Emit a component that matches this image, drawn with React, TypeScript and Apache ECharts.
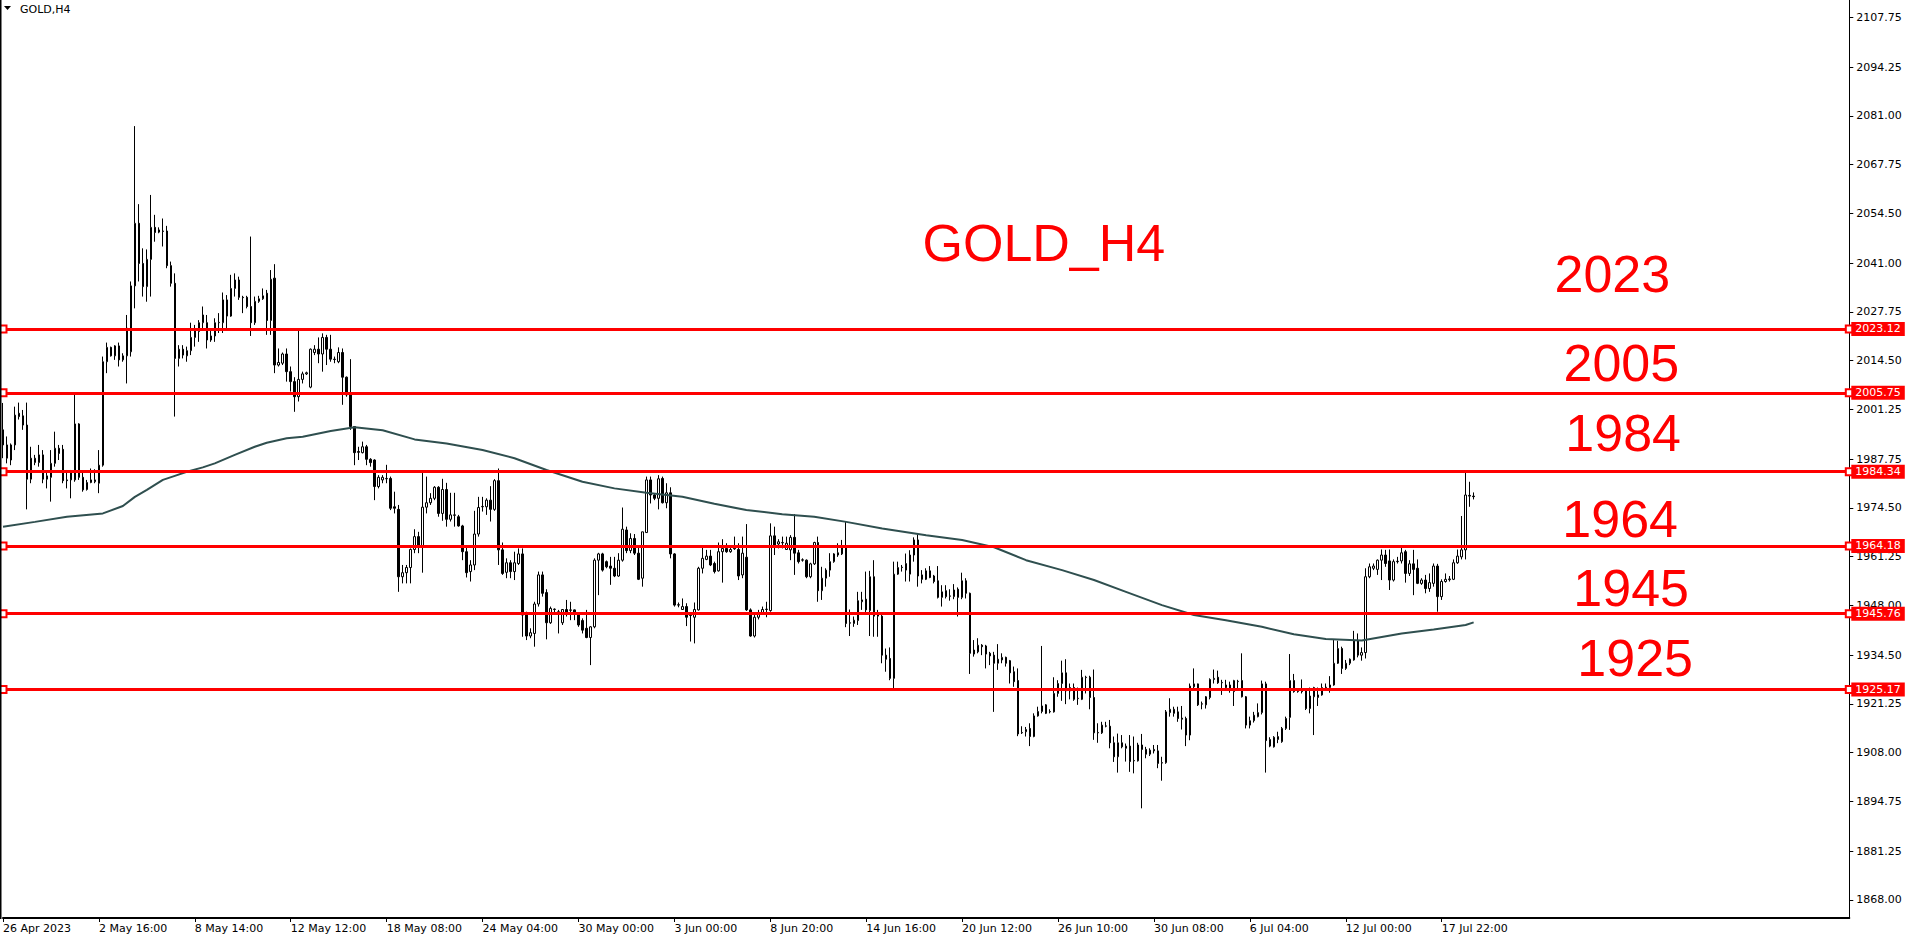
import React, { useEffect, useRef } from 'react';
import * as echarts from 'echarts';

// ---- data ----
const timeLabels: string[] = [
  '26 Apr 2023', '2 May 16:00', '8 May 14:00', '12 May 12:00', '18 May 08:00', '24 May 04:00',
  '30 May 00:00', '3 Jun 00:00', '8 Jun 20:00', '14 Jun 16:00', '20 Jun 12:00', '26 Jun 10:00',
  '30 Jun 08:00', '6 Jul 04:00', '12 Jul 00:00', '17 Jul 22:00',
];
const labelEvery = 24;
const totalSlots = 463;

const yTickValues: number[] = [
  1868.0, 1881.25, 1894.75, 1908.0, 1921.25, 1934.5, 1948.0, 1961.25, 1974.5, 1987.75,
  2001.25, 2014.5, 2027.75, 2041.0, 2054.5, 2067.75, 2081.0, 2094.25, 2107.75,
];
const yMin = 1863.11;
const yMax = 2112.45;

const levels: number[] = [2023.12, 2005.75, 1984.34, 1964.18, 1945.76, 1925.17];
const levelTexts: string[] = ['2023', '2005', '1984', '1964', '1945', '1925'];
const lastPrice = 1977.56;
const chartTitle = 'GOLD_H4';
const symbolLabel = 'GOLD,H4';

// open, high, low, close
const candles: [number, number, number, number][] = [
  [1995.7, 2003.0, 1988.0, 1991.6], [1988.0, 1993.9, 1986.6, 1991.6], [1987.5, 1992.0, 1986.1, 1991.6],
  [1991.6, 2002.0, 1990.2, 1999.7], [2000.2, 2003.1, 1998.5, 1999.3], [1999.5, 2001.1, 1995.7, 1997.0],
  [1997.0, 2003.1, 1974.1, 1982.3], [1982.3, 1991.1, 1981.2, 1988.0], [1986.8, 1988.9, 1986.1, 1988.0],
  [1986.8, 1991.6, 1985.7, 1988.9], [1988.9, 1990.2, 1981.2, 1982.3], [1982.3, 1984.1, 1979.8, 1983.2],
  [1982.8, 1990.2, 1976.2, 1986.6], [1986.6, 1995.2, 1985.7, 1990.7], [1990.7, 1991.6, 1987.5, 1989.3],
  [1990.4, 1991.6, 1981.2, 1981.9], [1982.1, 1984.8, 1979.8, 1981.9], [1982.1, 1984.8, 1977.1, 1984.3],
  [1982.1, 2005.6, 1981.6, 1997.3], [1997.3, 1997.5, 1982.1, 1982.8], [1982.8, 1984.3, 1978.9, 1979.4],
  [1979.5, 1982.1, 1979.2, 1981.4], [1981.4, 1985.2, 1981.2, 1982.1], [1981.6, 1985.0, 1981.2, 1982.1],
  [1981.2, 1990.2, 1978.5, 1986.1], [1986.1, 2015.6, 1985.7, 2014.2], [2014.2, 2019.4, 2011.1, 2018.1],
  [2018.1, 2018.3, 2015.6, 2015.8], [2015.8, 2018.7, 2014.7, 2018.5], [2018.5, 2019.4, 2012.9, 2014.7],
  [2014.7, 2016.5, 2014.2, 2015.8], [2015.8, 2026.9, 2008.3, 2023.3], [2016.9, 2036.0, 2015.6, 2034.8],
  [2034.8, 2078.2, 2028.7, 2051.8], [2051.8, 2057.0, 2036.0, 2040.9], [2040.9, 2045.0, 2031.9, 2034.6],
  [2034.6, 2044.7, 2030.5, 2042.0], [2042.0, 2059.5, 2031.9, 2050.7], [2050.7, 2054.1, 2046.8, 2049.3],
  [2049.4, 2050.7, 2049.1, 2050.0], [2049.7, 2053.1, 2045.5, 2049.6], [2049.7, 2051.1, 2039.6, 2040.3],
  [2040.3, 2041.4, 2034.6, 2035.5], [2035.5, 2038.2, 1999.3, 2015.1], [2015.1, 2018.7, 2012.9, 2017.6],
  [2017.6, 2018.7, 2015.1, 2016.0], [2015.8, 2018.3, 2014.2, 2017.2], [2017.2, 2024.8, 2016.0, 2020.8],
  [2020.8, 2024.2, 2018.3, 2023.0], [2022.4, 2025.5, 2019.6, 2024.8], [2024.8, 2029.2, 2022.8, 2026.9],
  [2024.8, 2026.9, 2017.8, 2020.1], [2020.1, 2022.8, 2019.6, 2021.2], [2021.2, 2026.0, 2019.6, 2024.8],
  [2024.8, 2027.4, 2022.0, 2024.9], [2024.8, 2033.0, 2022.0, 2031.0], [2031.0, 2032.3, 2022.8, 2026.6],
  [2026.6, 2037.8, 2026.4, 2034.1], [2034.1, 2038.2, 2031.9, 2036.4], [2036.4, 2037.3, 2031.0, 2031.7],
  [2031.7, 2032.1, 2027.4, 2031.6], [2031.7, 2032.1, 2028.7, 2029.2], [2029.2, 2048.2, 2021.2, 2024.8],
  [2024.8, 2031.9, 2024.2, 2030.6], [2030.6, 2032.1, 2030.2, 2031.3], [2031.3, 2034.1, 2031.0, 2032.1],
  [2032.8, 2033.7, 2021.5, 2025.4], [2025.4, 2039.1, 2021.5, 2036.6], [2036.9, 2040.7, 2011.1, 2013.3],
  [2013.3, 2017.8, 2012.9, 2014.0], [2013.8, 2016.7, 2013.3, 2016.3], [2016.3, 2017.8, 2008.8, 2011.5],
  [2011.5, 2012.9, 2006.1, 2008.8], [2008.8, 2010.0, 2000.6, 2004.7], [2004.7, 2022.6, 2003.4, 2009.4],
  [2009.4, 2011.5, 2008.3, 2010.9], [2010.9, 2011.5, 2010.6, 2011.2], [2007.3, 2017.8, 2007.0, 2017.6],
  [2016.7, 2018.7, 2016.0, 2017.6], [2017.6, 2020.8, 2013.8, 2016.3], [2016.3, 2021.9, 2011.5, 2020.8],
  [2020.8, 2021.5, 2013.3, 2017.6], [2017.6, 2021.5, 2014.2, 2014.9], [2014.9, 2015.6, 2013.8, 2014.8],
  [2014.2, 2018.1, 2013.8, 2016.7], [2016.7, 2017.8, 2002.5, 2010.0], [2010.0, 2010.2, 2004.7, 2005.2],
  [2005.2, 2014.9, 1995.7, 1996.6], [1996.6, 1996.6, 1986.1, 1989.5], [1989.8, 1991.1, 1987.5, 1989.6],
  [1989.5, 1992.5, 1989.3, 1991.1], [1991.1, 1991.6, 1986.1, 1987.7], [1987.7, 1988.0, 1985.7, 1986.8],
  [1987.5, 1987.7, 1976.6, 1980.3], [1980.3, 1983.4, 1979.8, 1982.8], [1982.1, 1983.4, 1981.2, 1982.8],
  [1982.4, 1986.2, 1981.2, 1982.5], [1982.5, 1983.0, 1973.9, 1974.4], [1974.8, 1978.9, 1973.0, 1974.4],
  [1974.1, 1975.3, 1951.7, 1955.8], [1955.8, 1959.0, 1954.0, 1956.9], [1956.9, 1959.0, 1954.0, 1958.3],
  [1958.3, 1963.5, 1954.0, 1963.2], [1963.2, 1968.7, 1962.2, 1966.7], [1966.7, 1968.0, 1962.2, 1964.0],
  [1964.0, 1984.1, 1956.9, 1974.7], [1974.7, 1983.0, 1973.0, 1975.9], [1975.9, 1978.5, 1975.3, 1977.1],
  [1977.1, 1980.4, 1976.6, 1980.1], [1980.1, 1980.4, 1972.1, 1973.0], [1973.0, 1982.4, 1971.0, 1979.5],
  [1979.5, 1981.3, 1969.4, 1971.4], [1971.4, 1978.6, 1970.8, 1972.6], [1972.6, 1978.6, 1969.4, 1972.5],
  [1972.1, 1972.6, 1969.4, 1969.6], [1969.6, 1969.9, 1960.3, 1962.6], [1962.6, 1964.0, 1955.6, 1956.9],
  [1957.2, 1960.3, 1954.5, 1959.0], [1959.0, 1973.7, 1957.6, 1967.4], [1967.4, 1977.5, 1966.7, 1974.6],
  [1974.8, 1977.5, 1973.5, 1974.9], [1974.8, 1977.1, 1972.6, 1976.6], [1976.6, 1980.4, 1970.8, 1974.1],
  [1974.1, 1982.3, 1973.7, 1981.9], [1981.9, 1985.2, 1959.0, 1963.1], [1963.1, 1965.1, 1956.3, 1956.7],
  [1957.0, 1960.8, 1955.4, 1959.6], [1959.6, 1960.3, 1955.4, 1957.2], [1957.2, 1962.6, 1954.9, 1959.6],
  [1959.4, 1963.5, 1959.0, 1962.0], [1962.0, 1963.5, 1939.5, 1945.4], [1945.4, 1946.3, 1938.6, 1939.7],
  [1939.7, 1941.8, 1939.1, 1940.6], [1940.4, 1949.0, 1936.8, 1948.4], [1948.4, 1957.2, 1947.7, 1956.3],
  [1956.3, 1957.2, 1950.4, 1951.3], [1951.5, 1952.4, 1938.8, 1943.3], [1943.3, 1947.7, 1943.0, 1947.2],
  [1946.9, 1947.2, 1945.9, 1947.0], [1945.9, 1946.8, 1940.4, 1946.3], [1943.3, 1946.9, 1942.7, 1946.9],
  [1946.9, 1949.5, 1945.0, 1945.9], [1946.8, 1949.0, 1944.0, 1946.7], [1946.8, 1946.9, 1944.0, 1945.9],
  [1945.4, 1945.9, 1942.2, 1942.7], [1943.9, 1944.5, 1940.4, 1941.3], [1941.8, 1946.8, 1939.1, 1939.3],
  [1939.3, 1942.4, 1931.8, 1942.2], [1942.2, 1960.8, 1941.8, 1960.3], [1960.3, 1962.3, 1950.8, 1962.0],
  [1962.0, 1962.3, 1957.2, 1957.6], [1959.9, 1960.2, 1958.1, 1958.5], [1958.7, 1961.2, 1953.6, 1958.1],
  [1958.1, 1961.2, 1955.7, 1956.0], [1956.0, 1962.2, 1955.8, 1960.3], [1960.3, 1974.6, 1959.9, 1968.7],
  [1968.5, 1969.4, 1962.2, 1962.9], [1962.9, 1967.6, 1962.2, 1966.2], [1966.2, 1967.4, 1961.7, 1962.2],
  [1962.2, 1963.8, 1954.9, 1955.1], [1955.4, 1968.0, 1953.1, 1968.0], [1967.8, 1983.0, 1967.8, 1982.1],
  [1982.1, 1983.0, 1975.7, 1978.0], [1978.0, 1978.5, 1976.6, 1977.1], [1977.1, 1983.4, 1974.1, 1982.4],
  [1982.5, 1983.0, 1975.7, 1975.9], [1975.9, 1981.2, 1974.4, 1978.6], [1978.6, 1980.1, 1960.8, 1962.0],
  [1962.0, 1962.2, 1947.7, 1948.1], [1948.1, 1948.8, 1947.5, 1948.2], [1946.9, 1949.9, 1946.8, 1947.7],
  [1947.7, 1948.6, 1942.4, 1944.8], [1945.4, 1946.0, 1938.2, 1945.3], [1944.8, 1948.8, 1937.7, 1946.9],
  [1946.8, 1958.5, 1946.6, 1958.1], [1958.1, 1964.0, 1956.7, 1960.8], [1960.5, 1963.1, 1960.3, 1961.4],
  [1961.4, 1963.1, 1958.7, 1959.0], [1959.4, 1959.9, 1956.7, 1957.2], [1957.4, 1965.1, 1957.2, 1962.6],
  [1962.6, 1966.0, 1954.2, 1963.5], [1963.5, 1964.9, 1962.3, 1962.6], [1962.6, 1963.9, 1962.3, 1963.2],
  [1963.4, 1966.7, 1963.1, 1963.6], [1963.2, 1964.9, 1954.9, 1956.0], [1956.3, 1966.7, 1955.4, 1962.2],
  [1961.1, 1970.1, 1946.5, 1946.8], [1946.8, 1947.2, 1939.5, 1939.7], [1939.7, 1945.4, 1939.3, 1944.8],
  [1944.8, 1946.8, 1944.2, 1945.9], [1945.9, 1947.7, 1945.5, 1946.9], [1946.9, 1949.0, 1944.8, 1947.0],
  [1946.6, 1970.3, 1946.3, 1966.9], [1966.9, 1969.4, 1961.7, 1964.4], [1964.7, 1966.0, 1963.5, 1965.3],
  [1965.0, 1966.7, 1963.5, 1965.1], [1963.2, 1966.7, 1963.1, 1964.9], [1963.1, 1967.1, 1960.3, 1966.5],
  [1966.5, 1972.8, 1956.3, 1962.2], [1962.3, 1963.1, 1959.4, 1959.9], [1960.3, 1960.8, 1959.9, 1960.4],
  [1960.3, 1960.5, 1955.4, 1955.8], [1955.8, 1959.6, 1955.4, 1959.3], [1959.3, 1965.3, 1959.0, 1965.1],
  [1965.1, 1966.7, 1949.0, 1952.0], [1952.0, 1958.5, 1949.5, 1955.4], [1955.4, 1958.1, 1953.1, 1957.6],
  [1957.6, 1962.2, 1955.8, 1959.9], [1959.9, 1962.2, 1959.6, 1962.0], [1962.3, 1964.9, 1961.2, 1961.7],
  [1962.0, 1965.8, 1961.7, 1964.0], [1964.2, 1970.8, 1942.1, 1943.1], [1943.3, 1946.9, 1939.7, 1943.2],
  [1943.1, 1945.0, 1942.2, 1944.0], [1943.9, 1951.7, 1942.7, 1949.3], [1949.0, 1951.7, 1946.8, 1949.5],
  [1949.7, 1957.2, 1945.9, 1946.8], [1946.6, 1957.4, 1939.7, 1955.8], [1955.8, 1960.3, 1939.5, 1945.1],
  [1945.1, 1946.8, 1939.5, 1945.9], [1945.1, 1945.9, 1932.3, 1934.5], [1934.5, 1936.3, 1930.0, 1933.4],
  [1933.6, 1936.6, 1927.7, 1928.2], [1928.2, 1959.9, 1925.5, 1956.5], [1956.5, 1959.9, 1956.3, 1958.3],
  [1958.3, 1959.0, 1957.2, 1958.4], [1957.6, 1962.1, 1954.5, 1959.4], [1956.5, 1963.0, 1954.5, 1961.7],
  [1961.7, 1966.5, 1959.9, 1965.8], [1965.8, 1967.6, 1953.1, 1956.0], [1956.3, 1957.6, 1954.0, 1955.1],
  [1955.1, 1958.1, 1954.9, 1957.4], [1957.4, 1958.7, 1955.4, 1955.6], [1956.0, 1956.3, 1954.0, 1954.5],
  [1954.7, 1958.7, 1949.9, 1950.2], [1950.2, 1953.5, 1947.7, 1951.7], [1952.0, 1953.5, 1949.9, 1950.4],
  [1950.6, 1952.4, 1949.3, 1950.5], [1950.4, 1953.8, 1949.7, 1952.2], [1952.4, 1952.9, 1945.0, 1950.2],
  [1950.2, 1956.9, 1949.7, 1954.7], [1954.7, 1955.4, 1949.9, 1951.3], [1951.3, 1951.5, 1929.4, 1935.0],
  [1934.8, 1938.6, 1934.1, 1935.9], [1935.4, 1939.1, 1935.0, 1937.2], [1937.2, 1937.5, 1934.5, 1936.8],
  [1937.0, 1937.3, 1930.9, 1934.8], [1935.0, 1935.4, 1931.8, 1934.3], [1934.5, 1935.4, 1919.1, 1932.3],
  [1932.3, 1937.5, 1930.5, 1933.4], [1933.2, 1935.0, 1932.3, 1933.9], [1933.9, 1934.1, 1931.4, 1932.3],
  [1933.0, 1933.2, 1926.8, 1929.7], [1930.0, 1931.4, 1925.9, 1927.3], [1927.6, 1930.9, 1912.5, 1913.1],
  [1913.4, 1915.2, 1913.1, 1913.5], [1913.7, 1915.0, 1912.4, 1914.3], [1914.6, 1916.0, 1909.8, 1912.4],
  [1912.4, 1918.7, 1912.2, 1918.0], [1918.0, 1920.5, 1917.8, 1919.2], [1919.2, 1937.0, 1918.7, 1920.7],
  [1921.0, 1921.2, 1918.5, 1918.7], [1919.2, 1919.8, 1918.7, 1919.1], [1919.1, 1928.5, 1918.9, 1924.1],
  [1924.1, 1927.7, 1923.2, 1926.8], [1926.8, 1933.0, 1922.1, 1929.7], [1929.7, 1933.4, 1921.2, 1924.8],
  [1924.8, 1926.8, 1922.5, 1925.7], [1925.7, 1926.8, 1922.1, 1922.5], [1922.7, 1925.7, 1921.0, 1922.8],
  [1922.5, 1930.5, 1922.3, 1928.5], [1928.5, 1928.9, 1924.1, 1928.4], [1928.5, 1928.9, 1919.8, 1923.0],
  [1923.0, 1930.6, 1911.5, 1913.4], [1913.4, 1916.0, 1910.7, 1913.5], [1913.4, 1916.4, 1913.1, 1915.5],
  [1915.2, 1916.4, 1914.9, 1915.3], [1915.2, 1916.9, 1909.2, 1910.7], [1910.7, 1912.4, 1905.5, 1906.9],
  [1906.9, 1913.2, 1902.6, 1910.7], [1910.7, 1912.8, 1909.2, 1909.6], [1909.2, 1910.5, 1905.6, 1909.8],
  [1909.8, 1912.8, 1902.8, 1905.6], [1905.8, 1912.4, 1902.4, 1905.9], [1905.8, 1910.7, 1905.6, 1910.1],
  [1910.1, 1913.1, 1892.9, 1908.9], [1908.9, 1909.6, 1906.5, 1907.6], [1907.6, 1909.2, 1907.1, 1908.7],
  [1908.5, 1910.1, 1907.8, 1908.9], [1908.5, 1910.1, 1903.8, 1905.1], [1905.2, 1906.9, 1900.4, 1905.3],
  [1905.3, 1919.6, 1905.0, 1919.1], [1918.9, 1922.8, 1917.8, 1919.8], [1918.7, 1920.5, 1917.8, 1919.8],
  [1919.1, 1920.5, 1916.4, 1917.3], [1917.1, 1920.7, 1914.3, 1917.4], [1917.3, 1917.8, 1909.8, 1912.8],
  [1912.8, 1926.8, 1911.4, 1926.1], [1925.9, 1930.9, 1925.0, 1926.7], [1926.7, 1926.8, 1920.7, 1921.0],
  [1921.2, 1921.9, 1919.8, 1921.3], [1921.0, 1923.4, 1920.0, 1923.2], [1923.0, 1928.2, 1922.5, 1927.9],
  [1927.9, 1930.6, 1926.8, 1928.2], [1928.5, 1930.3, 1926.7, 1927.0], [1927.0, 1927.8, 1923.7, 1927.1],
  [1926.4, 1927.8, 1925.0, 1925.7], [1926.4, 1927.3, 1924.3, 1925.0], [1924.6, 1927.8, 1920.7, 1927.6],
  [1927.3, 1927.8, 1925.0, 1927.4], [1927.6, 1935.0, 1923.0, 1923.2], [1923.2, 1923.4, 1914.6, 1915.5],
  [1915.5, 1917.8, 1914.6, 1916.7], [1916.7, 1919.1, 1916.2, 1918.2], [1917.8, 1921.4, 1917.6, 1918.9],
  [1918.9, 1927.6, 1918.4, 1926.7], [1926.7, 1927.3, 1902.6, 1911.3], [1909.8, 1912.2, 1909.5, 1911.6],
  [1909.6, 1912.5, 1909.4, 1912.2], [1911.6, 1913.7, 1910.6, 1912.4], [1911.0, 1915.0, 1910.7, 1914.6],
  [1914.6, 1917.8, 1914.2, 1917.3], [1917.6, 1934.8, 1914.2, 1927.6], [1927.6, 1929.4, 1924.3, 1924.6],
  [1924.6, 1925.0, 1924.3, 1924.7], [1925.0, 1927.9, 1924.1, 1924.6], [1924.8, 1925.0, 1919.6, 1920.0],
  [1920.0, 1925.7, 1918.7, 1923.4], [1923.2, 1925.9, 1912.8, 1925.7], [1923.0, 1925.7, 1920.7, 1923.7],
  [1923.7, 1926.8, 1923.5, 1925.7], [1925.8, 1926.8, 1925.5, 1925.7], [1925.7, 1928.8, 1924.3, 1926.4],
  [1926.4, 1938.6, 1926.2, 1932.3], [1932.3, 1938.4, 1932.1, 1936.3], [1936.3, 1936.8, 1929.4, 1930.9],
  [1930.9, 1933.2, 1930.5, 1932.3], [1932.3, 1933.6, 1931.8, 1933.4], [1933.2, 1941.1, 1933.0, 1938.4],
  [1938.4, 1940.4, 1933.9, 1934.5], [1934.5, 1936.6, 1933.0, 1935.2], [1935.2, 1958.1, 1933.6, 1955.8],
  [1955.8, 1959.4, 1955.4, 1958.5], [1958.1, 1959.4, 1957.6, 1958.7], [1957.8, 1960.5, 1956.3, 1960.3],
  [1960.3, 1963.2, 1954.9, 1961.7], [1961.7, 1963.1, 1958.5, 1959.4], [1960.1, 1963.2, 1952.2, 1954.9],
  [1954.9, 1960.5, 1954.5, 1959.9], [1959.9, 1961.2, 1959.4, 1960.0], [1960.1, 1964.0, 1959.4, 1962.3],
  [1962.6, 1963.1, 1954.2, 1956.7], [1956.7, 1960.3, 1956.0, 1959.3], [1959.3, 1963.1, 1950.8, 1957.8],
  [1958.1, 1960.5, 1953.8, 1954.0], [1954.0, 1955.4, 1953.6, 1954.9], [1954.9, 1956.3, 1951.3, 1952.6],
  [1952.6, 1956.7, 1951.7, 1954.2], [1954.0, 1959.4, 1953.1, 1958.7], [1958.7, 1959.3, 1946.3, 1950.4],
  [1950.4, 1955.1, 1949.5, 1954.5], [1954.5, 1956.7, 1954.2, 1955.1], [1955.0, 1956.0, 1954.5, 1955.2],
  [1955.1, 1960.5, 1954.9, 1959.6], [1959.6, 1963.2, 1959.3, 1961.4], [1961.2, 1972.3, 1960.5, 1963.1],
  [1963.1, 1984.1, 1960.5, 1978.0], [1977.9, 1981.6, 1974.8, 1977.7], [1977.7, 1978.7, 1976.8, 1977.56],
];

// moving average, read at bar indices: [bar, value]
const maPoints: [number, number][] = [
  [0, 1969.4], [8, 1970.7], [16, 1972.1], [25, 1973.0], [30, 1975.0], [33, 1977.5], [36, 1979.4],
  [40, 1982.1], [43, 1983.2], [46, 1984.3], [50, 1985.5], [53, 1986.6], [58, 1988.9], [63, 1991.1],
  [66, 1992.2], [71, 1993.4], [75, 1993.8], [82, 1995.4], [88, 1996.4], [95, 1995.6], [103, 1993.1],
  [111, 1992.0], [120, 1990.2], [128, 1988.0], [136, 1984.8], [145, 1981.6], [153, 1979.8],
  [161, 1978.6], [170, 1977.5], [178, 1975.6], [186, 1973.9], [195, 1972.8], [203, 1972.1],
  [211, 1970.7], [220, 1968.9], [231, 1967.1], [240, 1965.8], [248, 1963.8], [256, 1960.3],
  [265, 1957.6], [273, 1954.9], [281, 1951.7], [290, 1948.1], [298, 1945.4], [306, 1944.0],
  [315, 1942.2], [323, 1940.2], [331, 1938.9], [340, 1938.5], [350, 1940.4], [358, 1941.5],
  [366, 1942.7], [368, 1943.4],
];

const AXIS_FONT = '"DejaVu Sans", Verdana, sans-serif';
const BIG_FONT = '52px "Liberation Sans", Arial, sans-serif';

export default function App() {
  const ref = useRef<HTMLDivElement>(null);

  useEffect(() => {
    if (!ref.current) return;
    const chart = echarts.init(ref.current, undefined, { renderer: 'svg' });

    const categories = Array.from({ length: totalSlots }, (_, i) =>
      i % labelEvery === 0 && i / labelEvery < timeLabels.length ? timeLabels[i / labelEvery] : ''
    );
    const showTick = (i: number) => i % labelEvery === 0 && i / labelEvery < timeLabels.length;

    // big text annotation placements (pixel layout)
    const textPlacements = [
      { x: 1554.5, y: 274 },
      { x: 1563.5, y: 362.5 },
      { x: 1565.3, y: 433.3 },
      { x: 1562.3, y: 518.5 },
      { x: 1573.3, y: 588 },
      { x: 1577.3, y: 658 },
    ];

    const option: any = {
      animation: false,
      backgroundColor: '#ffffff',
      grid: { left: 1.3, right: 60.7, top: 0, bottom: 19, containLabel: false },
      xAxis: {
        type: 'category',
        data: categories,
        boundaryGap: false,
        axisLine: { show: true, lineStyle: { color: '#000', width: 2 } },
        axisTick: { show: true, interval: (i: number) => showTick(i), length: 4, lineStyle: { color: '#000', width: 1 } },
        axisLabel: {
          interval: (i: number) => showTick(i),
          align: 'left',
          margin: 5,
          color: '#000',
          fontFamily: AXIS_FONT,
          fontSize: 11,
          hideOverlap: false,
        },
        splitLine: { show: false },
      },
      yAxis: {
        type: 'value',
        position: 'right',
        min: yMin,
        max: yMax,
        scale: true,
        axisLine: { show: true, lineStyle: { color: '#000', width: 1 } },
        axisTick: { show: true, customValues: yTickValues, length: 4, lineStyle: { color: '#000' } },
        axisLabel: {
          customValues: yTickValues,
          formatter: (v: number) => v.toFixed(2),
          margin: 7,
          color: '#000',
          fontFamily: AXIS_FONT,
          fontSize: 11,
        },
        splitLine: { show: false },
      },
      series: [
        {
          type: 'candlestick',
          data: candles.map(([o, h, l, c]) => [o, c, l, h]),
          barWidth: 2,
          itemStyle: {
            color: '#ffffff',
            color0: '#000000',
            borderColor: '#000000',
            borderColor0: '#000000',
            borderWidth: 1,
          },
          z: 2,
        },
        {
          type: 'line',
          data: maPoints,
          symbol: 'none',
          showSymbol: false,
          lineStyle: { color: '#2F4F4F', width: 2 },
          z: 3,
        },
        {
          type: 'line',
          data: [],
          z: 5,
          markLine: {
            silent: true,
            animation: false,
            symbol: ['emptyRect', 'emptyRect'],
            symbolSize: 7,
            lineStyle: { color: '#ff0000', width: 3, type: 'solid' },
            label: {
              show: true,
              position: 'end',
              distance: 2,
              formatter: (p: any) => Number(p.value).toFixed(2),
              backgroundColor: '#ff0000',
              color: '#ffffff',
              fontFamily: AXIS_FONT,
              fontSize: 11,
              lineHeight: 12,
              padding: [1, 4, 1, 4],
            },
            data: levels.map((v) => ({ yAxis: v })),
          },
        },
        {
          type: 'line',
          data: [],
          z: 6,
          markLine: {
            silent: true,
            animation: false,
            symbol: 'none',
            lineStyle: { color: '#000', width: 0, opacity: 0 },
            label: {
              show: true,
              position: 'end',
              distance: 2,
              offset: [0, -3],
              formatter: (p: any) => Number(p.value).toFixed(2),
              backgroundColor: '#000000',
              color: '#ffffff',
              fontFamily: AXIS_FONT,
              fontSize: 11,
              lineHeight: 12,
              padding: [1, 4, 1, 4],
            },
            data: [{ yAxis: lastPrice }],
          },
        },
      ],
      graphic: [
        {
          type: 'line',
          silent: true,
          shape: { x1: 0.75, y1: 0, x2: 0.75, y2: 919 },
          style: { stroke: '#000', lineWidth: 1.5 },
          z: 10,
        },
        {
          type: 'polygon',
          silent: true,
          shape: { points: [[4, 6], [11, 6], [7.5, 10]] },
          style: { fill: '#000' },
        },
        {
          type: 'text',
          silent: true,
          x: 20,
          y: 9,
          style: {
            text: symbolLabel,
            fill: '#000',
            font: `11px ${AXIS_FONT}`,
            textAlign: 'left',
            textVerticalAlign: 'middle',
          },
        },
        {
          type: 'text',
          silent: true,
          x: 922.5,
          y: 242.8,
          style: {
            text: chartTitle,
            fill: '#ff0000',
            font: BIG_FONT,
            textAlign: 'left',
            textVerticalAlign: 'middle',
          },
          z: 20,
        },
        ...levelTexts.map((t, i) => ({
          type: 'text',
          silent: true,
          x: textPlacements[i].x,
          y: textPlacements[i].y,
          style: {
            text: t,
            fill: '#ff0000',
            font: BIG_FONT,
            textAlign: 'left',
            textVerticalAlign: 'middle',
          },
          z: 20,
        })),
      ],
    };

    chart.setOption(option);
    return () => {
      chart.dispose();
    };
  }, []);

  return (
    <div
      ref={ref}
      style={{ position: 'fixed', left: 0, top: 0, width: 1910, height: 937, background: '#ffffff' }}
    />
  );
}
